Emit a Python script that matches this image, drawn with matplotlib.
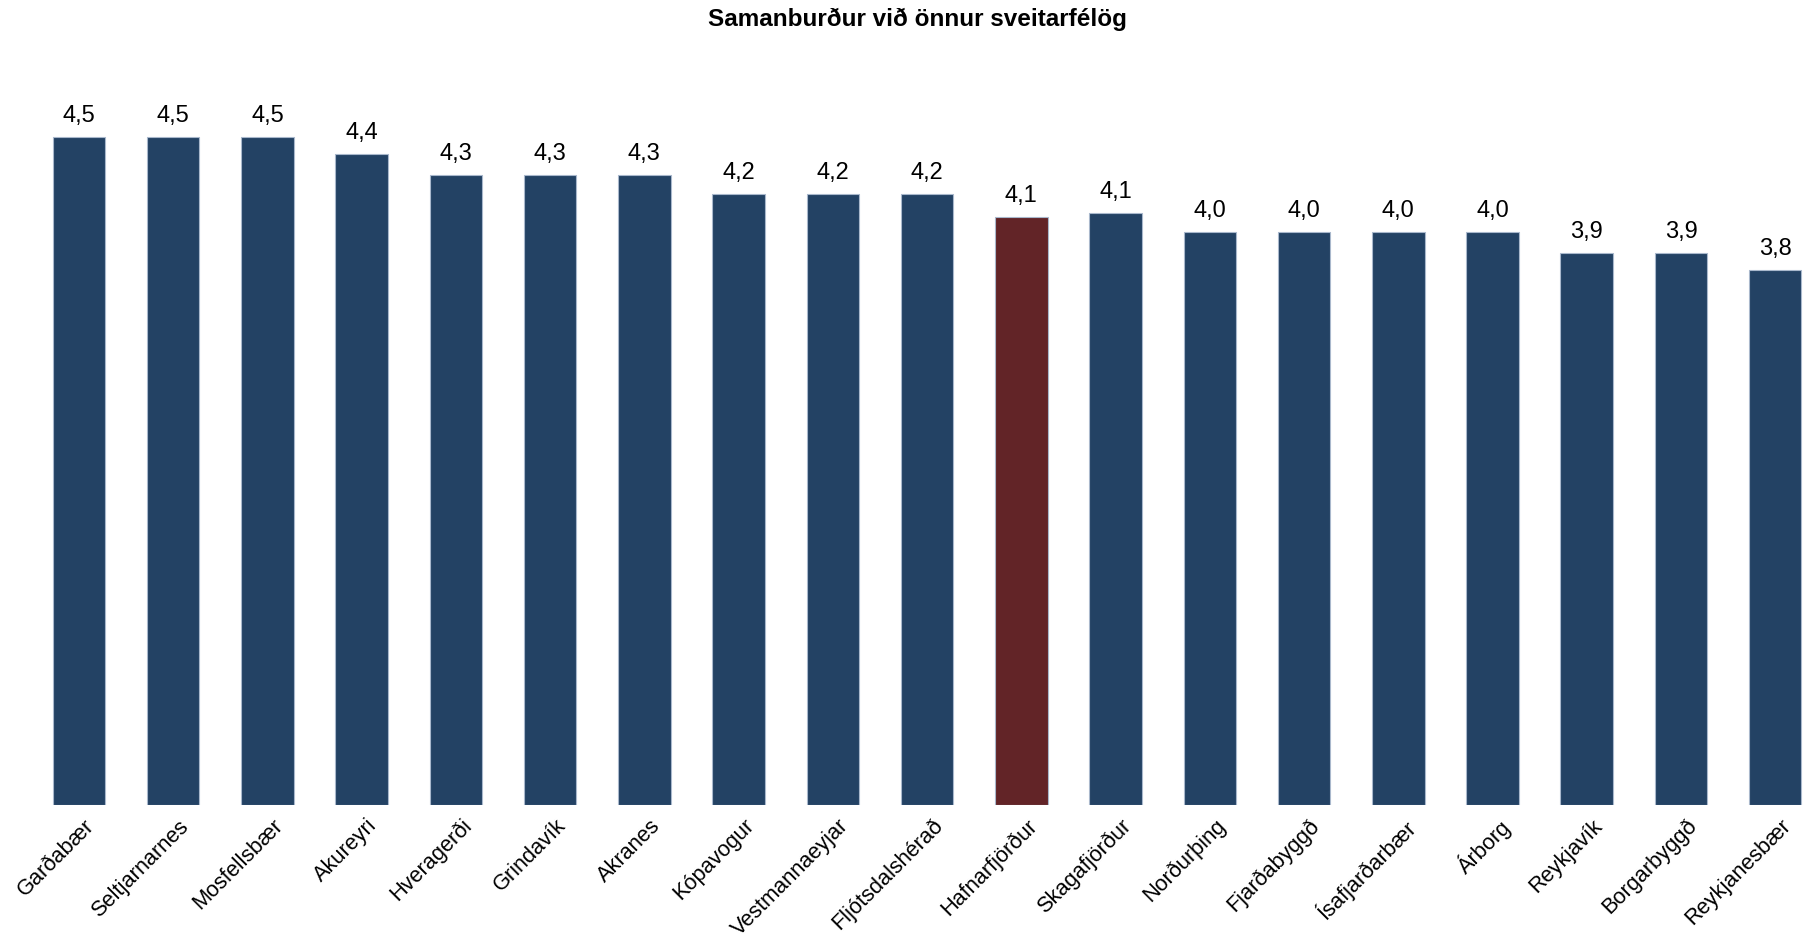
import matplotlib
matplotlib.use("Agg")
import matplotlib.pyplot as plt
import matplotlib.transforms as mtransforms
import numpy as np

plt.rcParams['font.family'] = ['Liberation Sans', 'DejaVu Sans']

# Data
sveitarfelog = ['Garðabær', 'Seltjarnarnes', 'Mosfellsbær', 'Akureyri', 'Hveragerði',
                'Grindavík', 'Akranes', 'Kópavogur', 'Vestmannaeyjar', 'Fljótsdalshérað',
                'Hafnarfjörður', 'Skagafjörður', 'Norðurþing', 'Fjarðabyggð', 'Ísafjarðarbær',
                'Árborg', 'Reykjavík', 'Borgarbyggð', 'Reykjanesbær']
einkunn = [4.50, 4.50, 4.50, 4.41, 4.30, 4.30, 4.30, 4.20, 4.20, 4.20,
           4.08, 4.10, 4.00, 4.00, 4.00, 4.00, 3.89, 3.89, 3.80]
merki = ['4,5', '4,5', '4,5', '4,4', '4,3', '4,3', '4,3', '4,2', '4,2', '4,2',
         '4,1', '4,1', '4,0', '4,0', '4,0', '4,0', '3,9', '3,9', '3,8']
valid = 'Hafnarfjörður'

blue = '#234264'
red = '#622427'

fig = plt.figure(figsize=(18.08, 9.37), dpi=100)
ax = fig.add_axes([0.0176, 0.1401, 0.9799, 0.8148])

x = np.arange(len(sveitarfelog))
colors = [red if s == valid else blue for s in sveitarfelog]
bars = ax.bar(x, np.array(einkunn) - 1, bottom=1, width=0.557, color=colors,
              edgecolor='#a9b8cc', linewidth=0.8)
ax.bar_label(bars, labels=merki, padding=8, fontsize=17)

ax.set_ylim(1, 5)
ax.set_xlim(-0.5, 18.3)
ax.set_xticks(x)
ax.set_xticklabels(sveitarfelog, rotation=45, ha='right', va='top',
                   rotation_mode='anchor', fontsize=15.7)
ax.tick_params(axis='x', length=0, pad=9)
# nudge labels a little to the right, like the original
offset = mtransforms.ScaledTranslation(0.05, 0.03, fig.dpi_scale_trans)
for lbl in ax.get_xticklabels():
    lbl.set_transform(lbl.get_transform() + offset)
ax.set_yticks([])
for sp in ax.spines.values():
    sp.set_visible(False)

fig.text(0.5075, 0.992, 'Samanburður við önnur sveitarfélög', ha='center', va='top',
         fontsize=17.5, fontweight='bold')

fig.savefig('out.png', dpi=100)
